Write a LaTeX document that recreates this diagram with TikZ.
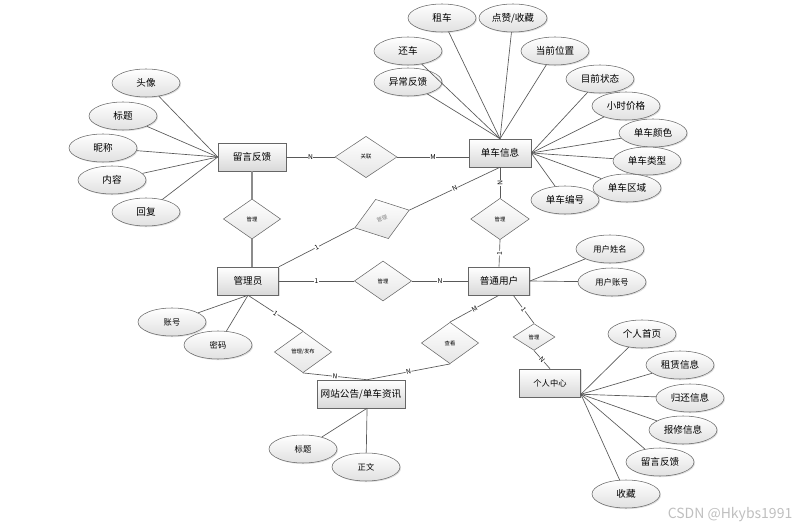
\documentclass[tikz,border=0pt]{standalone}
\usepackage{fontspec}
\setmainfont{Noto Sans CJK SC}
\usetikzlibrary{shapes.geometric,shadows}

\begin{document}
\begin{tikzpicture}[x=0.75pt, y=-0.75pt, font=\fontsize{7.2}{8}\selectfont,
                    every edge/.style={draw=black!65, line width=0.5pt}]
\tikzstyle{ombre}=[drop shadow={shadow xshift=0.8pt, shadow yshift=-0.8pt, opacity=0.25}]
\tikzstyle{entite}=[draw=black!60, rectangle, top color=white, bottom color=black!15,
                    minimum height=21pt, inner sep=1pt, ombre]
\tikzstyle{attr}=[draw=black!60, ellipse, top color=white, bottom color=black!12,
                  minimum width=51pt, minimum height=21pt, inner sep=0pt, ombre]
\tikzstyle{rel}=[draw=black!60, diamond, top color=white, bottom color=black!10,
                 minimum width=43pt, minimum height=30pt, inner sep=0pt,
                 font=\fontsize{4}{4}\selectfont]
\tikzstyle{card}=[fill=white, inner sep=0.4pt, sloped, font=\fontsize{5}{5}\selectfont]
\tikzstyle{epais}=[draw=black!45, line width=1.2pt]
\tikzstyle{petit}=[font=\fontsize{6.2}{7}\selectfont]

\useasboundingbox (0,0) rectangle (811,531);

% les entites
\node[entite, minimum width=51pt] (fb) at (252,157) {留言反馈};
\node[entite, minimum width=46.5pt] (bike) at (500,153) {单车信息};
\node[entite, minimum width=46pt] (adm) at (248,281) {管理员};
\node[entite, minimum width=46pt] (user) at (499,281) {普通用户};
\node[entite, minimum width=66pt] (web) at (361,394) {网站公告/单车资讯};
\node[entite, minimum width=46pt, petit] (pc) at (550,383) {个人中心};

% les associations
\node[rel, minimum width=46.5pt, minimum height=31pt] (r1) at (366,157) {关联};
\node[rel] (r2) at (252,219) {管理};
\node[rel, rotate=18, text=black!50, minimum height=31pt] (r3) at (382,219) {管理};
\node[rel] (r4) at (383,281) {管理};
\node[rel, minimum width=44pt, minimum height=31pt] (r5) at (500,219) {管理};
\node[rel, minimum height=31pt] (r6) at (303,352) {管理/发布};
\node[rel, minimum height=31pt] (r7) at (450,343) {查看};
\node[rel, minimum width=31.5pt, minimum height=20pt] (r8) at (534,337) {管理};

% les attributs
\node[attr] (a1) at (146,83) {头像};
\node[attr] (a2) at (123,116) {标题};
\node[attr] (a3) at (103,148) {昵称};
\node[attr] (a4) at (112,180) {内容};
\node[attr] (a5) at (146,212) {回复};

\node[attr] (b1) at (442,18) {租车};
\node[attr] (b2) at (513,18) {点赞/收藏};
\node[attr] (b3) at (408,51) {还车};
\node[attr] (b4) at (555,51) {当前位置};
\node[attr] (b5) at (408,82) {异常反馈};
\node[attr] (b6) at (600,79) {目前状态};
\node[attr] (b7) at (626,106) {小时价格};
\node[attr] (b8) at (653,133) {单车颜色};
\node[attr] (b9) at (647,161) {单车类型};
\node[attr] (b10) at (627,188) {单车区域};
\node[attr] (b11) at (565,200) {单车编号};

\node[attr, petit] (c1) at (172,322) {账号};
\node[attr, petit] (c2) at (218,345) {密码};

\node[attr, petit] (d1) at (610,249) {用户姓名};
\node[attr, petit] (d2) at (612,282) {用户账号};

\node[attr, petit] (e1) at (303,449) {标题};
\node[attr, petit] (e2) at (366,467) {正文};

\node[attr] (f1) at (642,334) {个人首页};
\node[attr] (f2) at (680,365) {租赁信息};
\node[attr] (f3) at (690,398) {归还信息};
\node[attr] (f4) at (683,430) {报修信息};
\node[attr] (f5) at (660,462) {留言反馈};
\node[attr] (f6) at (626,494) {收藏};

\node[text=black!25, font=\fontsize{10.5}{11}\selectfont, anchor=east] (wm) at (797,515) {CSDN @Hkybs1991};

\path
    (fb.east) edge node[card] {N} (r1.west)
    (r1.east) edge node[card] {M} (r1.east -| bike.west)
    (fb.south) edge[epais] (r2.north)
    (r2.south) edge[epais] (r2.south |- adm.north)
    (adm.north east) edge node[card] {1} (r3.west)
    (r3.east) edge node[card] {N} (bike.south)
    (bike.south) edge node[card] {N} (r5.north)
    (r5.south) edge node[card] {1} (user.north)
    (adm.east) edge node[card] {1} (r4.west)
    (r4.east) edge node[card] {N} (user.west)
    (adm.south) edge node[card] {1} (r6.north)
    (r6.south) edge node[card] {N} (web.67)
    (user.south) edge node[card] {M} (r7.north)
    (r7.south) edge node[card] {N} (web.67)
    (user.-45) edge node[card] {1} (r8.north)
    (r8.south) edge node[card] {N} (pc.north);

\path (fb.west) edge (a1) edge (a2) edge (a3) edge (a4) edge (a5);
\path (bike.north) edge (b1) edge (b2) edge (b3) edge (b4) edge (b5);
\path (bike.east) edge (b6) edge (b7) edge (b8) edge (b9) edge (b10) edge (b11);
\path (adm.south) edge (c1) edge (c2);
\path (user.east) edge (d1) edge (d2);
\path (web.-67) edge (e1) edge (e2);
\path (pc.-20) edge (f1) edge (f2) edge (f3) edge (f4) edge (f5) edge (f6);
\end{tikzpicture}
\end{document}
